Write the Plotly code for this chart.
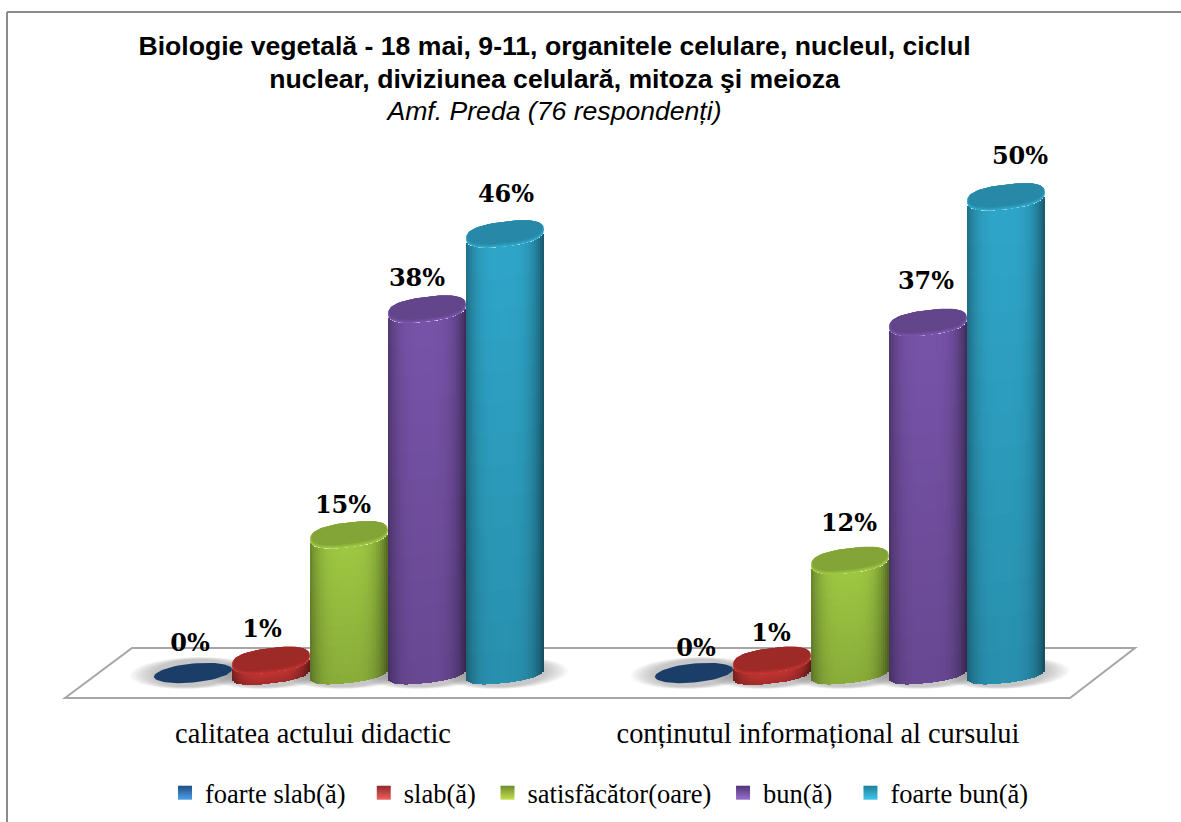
import math
import plotly.graph_objects as go

# ---- data ----
categories = ["calitatea actului didactic", "conținutul informațional al cursului"]
series_names = ["foarte slab(ă)", "slab(ă)", "satisfăcător(oare)", "bun(ă)", "foarte bun(ă)"]
foarte_slab = [0.0, 0.0]
slab = [1.3, 1.3]
satisfacator = [14.5, 11.8]
bun = [38.2, 36.8]
foarte_bun = [46.1, 50.0]
labels_foarte_slab = ["0%", "0%"]
labels_slab = ["1%", "1%"]
labels_satisfacator = ["15%", "12%"]
labels_bun = ["38%", "37%"]
labels_foarte_bun = ["46%", "50%"]
title_line1 = "Biologie vegetală - 18 mai, 9-11, organitele celulare, nucleul, ciclul"
title_line2 = "nuclear, diviziunea celulară, mitoza şi meioza"
title_line3 = "Amf. Preda (76 respondenți)"

series_values = [foarte_slab, slab, satisfacator, bun, foarte_bun]
series_labels = [labels_foarte_slab, labels_slab, labels_satisfacator, labels_bun, labels_foarte_bun]

# ---- style ----
W, H = 1181, 822
PLOT_H = 700
X_PX = 501.0            # pixels per category
Y_PX = 9.52             # pixels per percentage point
X0_PX, Y0_PX = 349.0, 673.0
x_range = [-X0_PX / X_PX, (W - X0_PX) / X_PX]
y_range = [(Y0_PX - PLOT_H) / Y_PX, Y0_PX / Y_PX]
def dx(p): return p / X_PX
def dy(p): return p / Y_PX

CYL_W = 78.0
A, B, K = CYL_W / 2, 12.5, 4.5     # ellipse half-width, half-height, tilt (pixels)
P = 0.8                            # superellipse exponent: ends are slightly boxy
base_rgb = [(27, 62, 105), (178, 48, 46), (148, 186, 62), (112, 78, 158), (44, 155, 188)]
legend_dark = ["#1f4e85", "#8f2b2a", "#6f8a2c", "#4f3578", "#1f7f98"]
legend_light = ["#4f9fe8", "#f06060", "#c4e050", "#9a70d0", "#40c8ea"]
legend_pad = [2, 1, 1, 2, 0]       # trailing no-break spaces to widen legend gaps
# label offset from the top of the cylinder, pixels (x, y)
label_offsets = [[(-3, 28), (2, 23)], [(-9, 30), (-1, 26)], [(-6, 28), (-1, 36)], [(-10, 29), (-2, 40)], [(1, 38), (14, 39)]]
tick_shift = [-36 / X_PX, -32 / X_PX]
N_STRIPS, N_ROWS = 39, 14

def shade(rgb, u, v):
    """u in -1..1 across the cylinder, v in 0..1 bottom to top."""
    edge = abs(u + 0.05)
    f = 1.03 - 0.42 * edge ** 3.5
    f *= 0.90 + 0.14 * v
    return "rgb(%d,%d,%d)" % tuple(min(255, int(c * f)) for c in rgb)

def spow(c, p):
    return math.copysign(abs(c) ** p, c)

def ellipse(cx, cy, a=A, b=B, k=K, n=64, p=P):
    xs, ys = [], []
    for i in range(n + 1):
        t = 2 * math.pi * i / n
        c, s = spow(math.cos(t), p), spow(math.sin(t), p)
        xs.append(cx + dx(a * c))
        ys.append(cy + dy(b * s + k * c))
    return xs, ys

def arc_at(u, p=P):
    n = 2 / p
    return max(0.0, 1 - abs(u) ** n) ** (1 / n)

def ell_path(cx, cy, a, b, k):
    xs, ys = ellipse(cx, cy, a, b, k, 40, 1.0)
    return "M" + " L".join("%.5f,%.4f" % p for p in zip(xs, ys)) + " Z"

fig = go.Figure()
shapes = []

# frame
for x0, y0, x1, y1 in [(7, 12, 7, H), (7, 12, W, 12)]:
    shapes.append(dict(type="line", xref="paper", yref="paper",
                       x0=x0 / W, x1=x1 / W, y0=(PLOT_H - y0) / PLOT_H, y1=(PLOT_H - y1) / PLOT_H,
                       line=dict(color="#8c8c8c", width=2), layer="below"))

# floor
fx = [(65 - X0_PX) / X_PX, (132 - X0_PX) / X_PX, (1135 - X0_PX) / X_PX, (1070 - X0_PX) / X_PX]
fy = [dy(-25), dy(25), dy(25), dy(-25)]
shapes.append(dict(type="path", xref="x", yref="y",
                   path="M" + " L".join("%.5f,%.4f" % p for p in zip(fx, fy)) + " Z",
                   line=dict(color="#a6a6a6", width=2), fillcolor="#ffffff", layer="below"))

# floor shadows: soft band built from many faint ellipses
for g in range(len(categories)):
    for i in range(5):
        cx = g + dx(78 * (i - 2))
        for grow in range(24, 0, -3):
            shapes.append(dict(type="path", xref="x", yref="y",
                               path=ell_path(cx, dy(0), A + grow, B + 1 + grow * 0.10, K * 0.5),
                               line=dict(width=0), fillcolor="rgba(110,110,110,0.055)", layer="below"))

# cylinders
for s, (name, vals, labs) in enumerate(zip(series_names, series_values, series_labels)):
    rgb = base_rgb[s]
    bx, by, bb, bw, bc = [], [], [], [], []
    cap_traces = []
    tx, ty, tt = [], [], []
    for g, v in enumerate(vals):
        cx = g + dx(78 * (s - 2))
        # top / bottom ends follow the outline, strip by strip
        if v > 0:
            for j in range(N_STRIPS):
                u = (j + 0.5) / N_STRIPS * 2 - 1
                arc = arc_at(u)
                lo = dy(-B * 0.8 * arc + K * u)
                hi = v + dy(-B * arc + K * u)
                for r in range(N_ROWS):
                    y0 = lo + (hi - lo) * r / N_ROWS
                    y1 = lo + (hi - lo) * (r + 1) / N_ROWS
                    bx.append(cx + dx(CYL_W) * u / 2)
                    bb.append(y0)
                    by.append(y1 - y0)
                    bw.append(dx(CYL_W) / N_STRIPS * 1.02)
                    bc.append(shade(rgb, u, (r + 0.5) / N_ROWS))
        cap_traces.append((cx, v))
        off = label_offsets[s][g]
        tx.append(cx + dx(off[0]))
        ty.append(v + dy(off[1]))
        tt.append(labs[g])
    if bx:
        fig.add_trace(go.Bar(x=bx, y=by, base=bb, width=bw, marker=dict(color=bc, line=dict(width=0)),
                             showlegend=False, hoverinfo="skip", name=name))
    for cx, v in cap_traces:
        # soft lit rim fading into the darker cap
        if v > 0:
            for inset, lift, f in [(0, 0, 1.08), (1, 1, 1.02), (2, 2, 0.95), (3, 3, 0.89)]:
                xs, ys = ellipse(cx, v + dy(lift * 0.6), A - inset * 0.5, B - inset * 0.6, K)
                c = tuple(min(255, int(q * f)) for q in rgb)
                fig.add_trace(go.Scatter(x=xs, y=ys, mode="lines", fill="toself", line=dict(width=0),
                                         fillcolor="rgb(%d,%d,%d)" % c, showlegend=False, hoverinfo="skip"))
        else:
            xs, ys = ellipse(cx, v, A, B - 3, K * 0.8, p=1.0)
            fig.add_trace(go.Scatter(x=xs, y=ys, mode="lines", fill="toself", line=dict(width=0),
                                     fillcolor="rgb(%d,%d,%d)" % rgb, showlegend=False, hoverinfo="skip"))
    fig.add_trace(go.Scatter(x=tx, y=ty, mode="text", text=tt, textposition="middle center",
                             textfont=dict(family="DejaVu Serif", size=24, color="#000000", weight="bold"),
                             showlegend=False, hoverinfo="skip"))
    # legend key
    fig.add_trace(go.Scatter(x=[None], y=[None], mode="markers", name=name + "\u00a0" * legend_pad[s],
                             marker=dict(symbol="square", size=14, color=legend_dark[s],
                                         gradient=dict(type="vertical", color=legend_light[s]))))

fig.update_layout(
    width=W, height=H, margin=dict(l=0, r=0, t=0, b=H - PLOT_H, pad=0),
    paper_bgcolor="#ffffff", plot_bgcolor="rgba(0,0,0,0)",
    barmode="overlay", bargap=0,
    shapes=shapes,
    title=dict(
        text="<span style='font-size:26.6px'><b>%s</b></span><br><span style='font-size:26.6px'><b>%s</b></span><br>"
             "<span style='font-size:26.6px'><i>%s</i></span>" % (title_line1, title_line2, title_line3),
        x=554.5 / W, xanchor="center", y=1 - 55 / H, yanchor="top",
        font=dict(family="Liberation Sans", size=25, color="#000000")),
    xaxis=dict(range=x_range, tickmode="array",
               tickvals=[i + tick_shift[i] for i in range(len(categories))], ticktext=categories,
               showgrid=False, zeroline=False, showline=False, ticks="outside", ticklen=8,
               tickcolor="rgba(0,0,0,0)",
               tickfont=dict(family="Liberation Serif", size=28.4, color="#000000"), fixedrange=True),
    yaxis=dict(range=y_range, visible=False, fixedrange=True),
    legend=dict(orientation="h", x=165 / W, xanchor="left", y=(PLOT_H - 769) / (PLOT_H), yanchor="top",
                font=dict(family="Liberation Serif", size=26.5, color="#000000"),
                itemwidth=30, bgcolor="rgba(0,0,0,0)", itemclick=False, itemdoubleclick=False),
    showlegend=True,
)

fig.write_html("out.html", post_script="document.body.style.margin='0';document.body.style.overflow='hidden';",
               config={"displayModeBar": False})
